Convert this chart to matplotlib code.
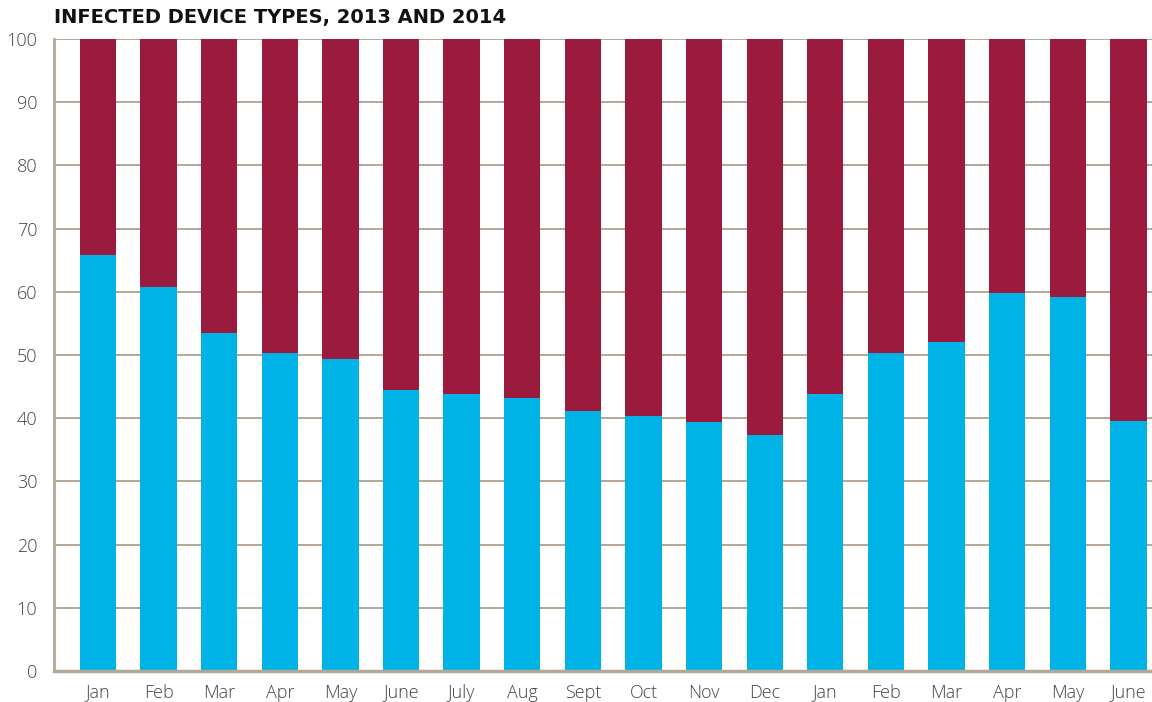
import matplotlib
matplotlib.use("Agg")
import matplotlib.pyplot as plt
import numpy as np

months = ["Jan", "Feb", "Mar", "Apr", "May", "June", "July", "Aug", "Sept", "Oct",
          "Nov", "Dec", "Jan", "Feb", "Mar", "Apr", "May", "June"]
blue_vals = [65.8, 60.8, 53.5, 50.3, 49.4, 44.5, 43.8, 43.2, 41.1, 40.3,
             39.4, 37.3, 43.8, 50.3, 52.1, 59.8, 59.2, 39.6]
red_vals = [100 - v for v in blue_vals]
yticks = list(range(0, 101, 10))
title = "INFECTED DEVICE TYPES, 2013 AND 2014"

BLUE = "#00B3E7"
RED = "#9A1B3E"
GRID = "#B5A796"

fig = plt.figure(figsize=(11.52, 7.02), dpi=100)
ax = fig.add_axes([54/1152, 1 - 671/702, 1 - 54/1152, (671 - 39)/702])

x = np.arange(len(months))
ax.bar(x, blue_vals, width=0.6, color=BLUE, zorder=3)
ax.bar(x, red_vals, width=0.6, bottom=blue_vals, color=RED, zorder=3)

ax.set_xlim(-0.726, 17.39)
ax.set_ylim(0, 100)
ax.set_yticks(yticks)
ax.set_xticks(x)
ax.set_xticklabels(months)
for sp in ["top", "right"]:
    ax.spines[sp].set_visible(False)
ax.spines["left"].set_color(GRID)
ax.spines["left"].set_linewidth(2)
ax.spines["bottom"].set_color(GRID)
ax.spines["bottom"].set_linewidth(2.5)
ax.spines["bottom"].set_zorder(4)
ax.yaxis.grid(True, color=GRID, linewidth=1.4, zorder=1)
ax.tick_params(axis="both", length=0, labelsize=13, colors="#444444", labelcolor="#444444")
ax.tick_params(axis="y", pad=12)
ax.tick_params(axis="x", pad=9)
for lbl in ax.get_xticklabels() + ax.get_yticklabels():
    lbl.set_fontfamily("Open Sans")
    lbl.set_fontweight("light")

fig.text(54/1152, 1 - 18/702, title, fontsize=14, fontweight="bold",
         family="DejaVu Sans", color="#111111", va="center", ha="left")

fig.savefig("out.png", dpi=100, facecolor="white")
